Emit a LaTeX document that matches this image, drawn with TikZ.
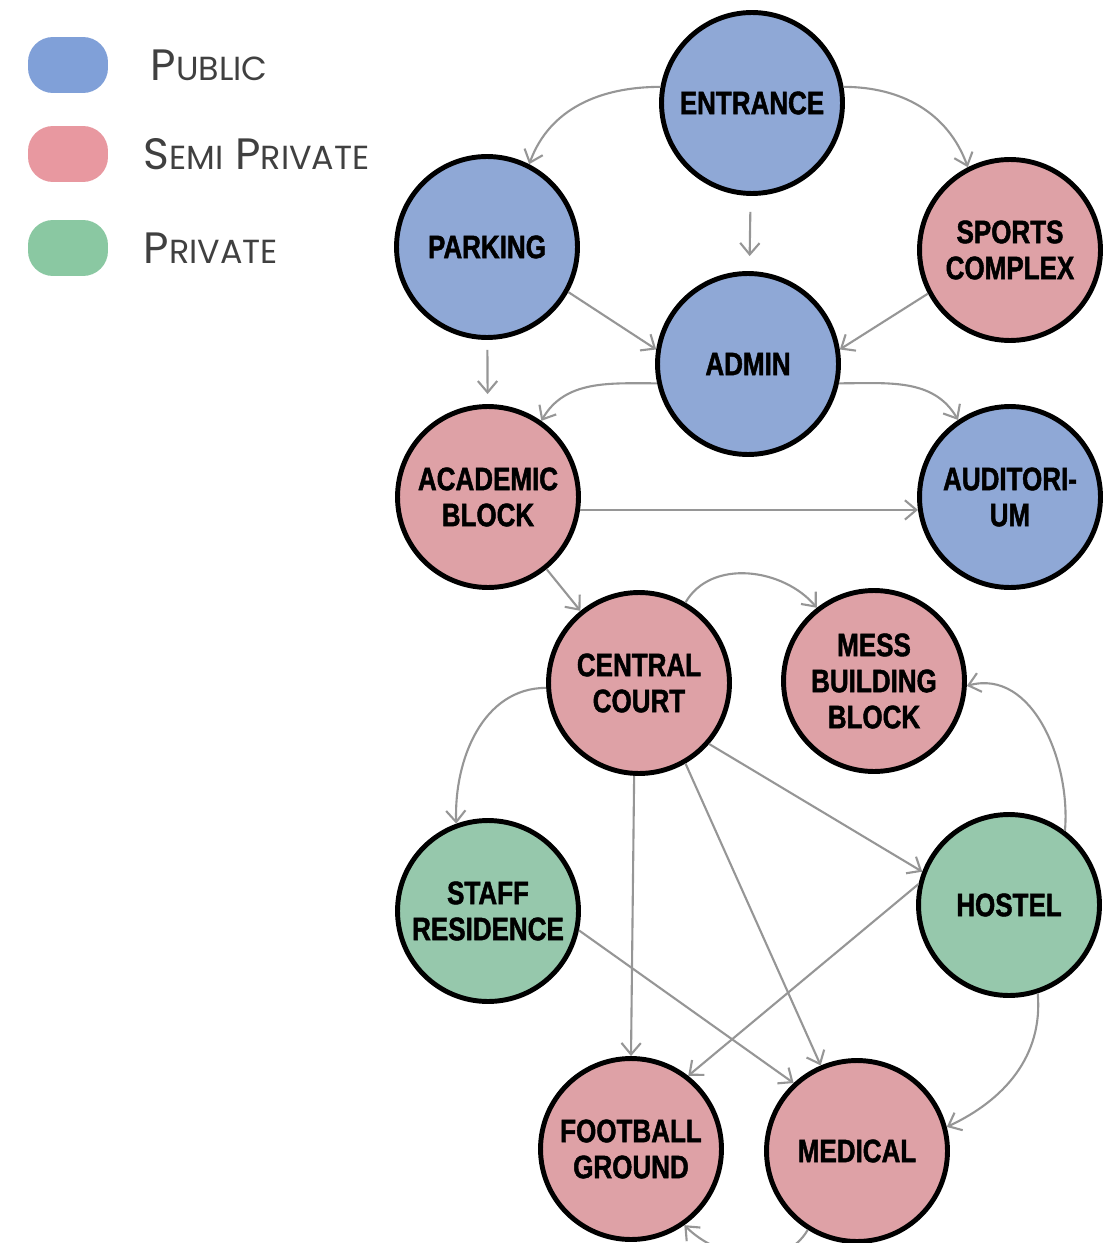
\documentclass[tikz,border=0pt]{standalone}
\usepackage{fontspec}
\usepackage{tikz}
\usetikzlibrary{arrows.meta}
\usetikzlibrary{positioning}

\newfontfamily\roomfont[FakeStretch=0.8,FakeBold=1.4]{Liberation Sans Bold}
\newfontfamily\legfont{Poppins}
\newcommand\lowcaps{\fontsize{19}{21}\selectfont}

\definecolor{pubfill}{RGB}{143,168,214}
\definecolor{semifill}{RGB}{222,161,166}
\definecolor{privfill}{RGB}{150,200,172}
\definecolor{publeg}{RGB}{128,160,216}
\definecolor{semileg}{RGB}{232,152,160}
\definecolor{privleg}{RGB}{138,200,162}
\definecolor{linkgray}{RGB}{150,150,150}

\begin{document}
\begin{tikzpicture}[x=0.02cm, y=-0.02cm, >={Straight Barb[length=6.5pt,width=11pt]},
    room/.style={circle, draw=black, line width=2.8pt, minimum size=3.62cm, inner sep=0pt,
        align=center, font=\roomfont\fontsize{18.5}{20.5}\selectfont},
    pub/.style={room, fill=pubfill},
    semi/.style={room, fill=semifill},
    priv/.style={room, fill=privfill},
    legbox/.style={rectangle, rounded corners=0.5cm, minimum width=1.6cm, minimum height=1.12cm, inner sep=0pt},
    legtext/.style={anchor=west, inner sep=0pt, text=black!75, font=\legfont\fontsize{25}{27}\selectfont},
    link/.style={->, linkgray, line width=1.2pt}]

    \useasboundingbox (0,0) rectangle (1102,1243);

    % legend
    \node[legbox, fill=publeg] (legpub) at (68,65) {};
    \node[legbox, fill=semileg] (legsemi) at (68,154) {};
    \node[legbox, fill=privleg] (legpriv) at (68,248) {};
    \node[legtext, right=0.84cm of legpub] {P{\lowcaps UBLIC}};
    \node[legtext, right=0.7cm of legsemi] {S{\lowcaps EMI} P{\lowcaps RIVATE}};
    \node[legtext, right=0.7cm of legpriv] {P{\lowcaps RIVATE}};

    % rooms
    \node[pub] (entr) at (752,103) {ENTRANCE};
    \node[pub] (park) at (487,247) {PARKING};
    \node[semi] (sport) at (1010,250) {SPORTS\\COMPLEX};
    \node[pub] (admin) at (748,364) {ADMIN};
    \node[semi] (acad) at (488,497) {ACADEMIC\\BLOCK};
    \node[pub] (audi) at (1010,497) {AUDITORI-\\UM};
    \node[semi] (court) at (639,683) {CENTRAL\\COURT};
    \node[semi] (mess) at (874,681) {MESS\\BUILDING\\BLOCK};
    \node[priv] (staff) at (488,911) {STAFF\\RESIDENCE};
    \node[priv] (hostel) at (1009,905) {HOSTEL};
    \node[semi] (foot) at (631,1149) {FOOTBALL\\GROUND};
    \node[semi] (med) at (857,1151) {MEDICAL};

    % links
    \draw[link] (entr.170) to[out=180,in=70] (park.63);
    \draw[link] (entr.10) to[out=0,in=110] (sport.117);
    \draw[link, shorten <=0.32cm, shorten >=0.3cm] (entr) -- (admin);
    \draw[link] (park.-29) -- (admin.171);
    \draw[link] (sport.208) -- (admin.9);
    \draw[link, shorten <=0.2cm, shorten >=0.2cm] (park) -- (acad);
    \draw[link] (admin.192) to[out=180,in=60] (acad.55);
    \draw[link] (admin.-12) to[out=0,in=120] (audi.124);
    \draw[link] (acad.-8) -- (audi.188);
    \draw[link] (acad) -- (court);

    \draw[link] (court.60) to[out=60,in=130] (mess.128);
    \draw[link] (court.183) to[out=180,in=92] (staff.110);
    \draw[link] (court.-41) -- (hostel.159);
    \draw[link] (court.-93) -- (foot.north);
    \draw[link] (court.-60) -- (med.113);
    \draw[link] (staff.-12) -- (med.133);
    \draw[link] (hostel.167) -- (foot.52);
    \draw[link] (hostel.53) to[out=85,in=15] (mess.-3);
    \draw[link] (hostel.-72) to[out=-85,in=25] (med.15);
    \draw[link] (med.238) to[out=240,in=-45] (foot.-55);
\end{tikzpicture}
\end{document}
